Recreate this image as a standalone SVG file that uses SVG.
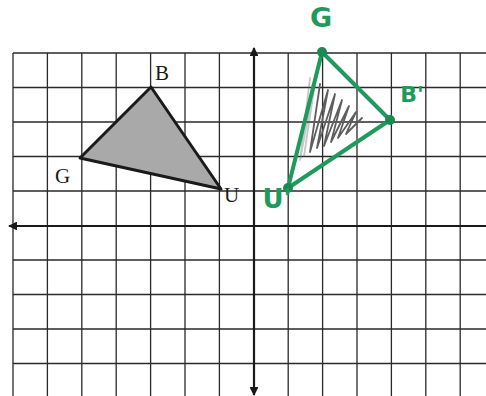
<svg xmlns="http://www.w3.org/2000/svg" width="486" height="396" viewBox="0 0 486 396">
<defs>
<style>
.grid{stroke:#2a2a2a;stroke-width:1.3;fill:none}
.axis{stroke:#1a1a1a;stroke-width:2.2;fill:none}
.lbl{font-family:"Liberation Serif",serif;font-size:21px;fill:#1a1a1a}
.hand{font-family:"DejaVu Sans",sans-serif;font-weight:bold;fill:#1e9a5c}
.grn{stroke:#1e9a5c;stroke-width:4;fill:none;stroke-linejoin:round;stroke-linecap:round}
.dot{fill:#1a8a52}
.hatch{stroke:#5e5e5e;stroke-width:1.8;fill:none;stroke-linejoin:round;stroke-linecap:round}
</style>
<marker id="ah" viewBox="0 0 10 10" refX="9" refY="5" markerWidth="4" markerHeight="4" orient="auto-start-reverse">
<path d="M0,0 L10,5 L0,10 z" fill="#1a1a1a"/>
</marker>
</defs>
<rect width="486" height="396" fill="#ffffff"/>
<g id="grid">
<path class="grid" d="M13,53V396 M47.4,53V396 M81.8,53V396 M116.2,53V396 M150.6,53V396 M185,53V396 M219.4,53V396 M288.2,53V396 M322.6,53V396 M357,53V396 M391.4,53V396 M425.8,53V396 M460.2,53V396"/>
<path class="grid" d="M13,53H486 M13,87.5H486 M13,122H486 M13,156.5H486 M13,191H486 M13,260H486 M13,294.5H486 M13,329H486 M13,363.5H486"/>
</g>
<g id="axes">
<line class="axis" x1="486" y1="226" x2="9" y2="226" marker-end="url(#ah)"/>
<line class="axis" x1="254" y1="220" x2="254" y2="48" marker-end="url(#ah)"/>
<line class="axis" x1="254" y1="220" x2="254" y2="395" marker-end="url(#ah)"/>
</g>
<g id="triangle-BGU">
<polygon points="151,87 80,158 221,189" fill="#a9a9a9" stroke="#1a1a1a" stroke-width="3" stroke-linejoin="round"/>
<text class="lbl" x="155" y="80">B</text>
<text class="lbl" x="55" y="183">G</text>
<text class="lbl" x="224" y="202">U</text>
</g>
<g id="hatching">
<polyline class="hatch" points="310,78 300,160 316,76 304,156" opacity="0.35" stroke-width="3"/>
<polyline class="hatch" points="320,84 310,152 328,90 317,148 335,94 324,146 342,100 331,142 349,106 338,138 356,112 346,134 362,118"/>
</g>
<g id="triangle-image">
<polygon class="grn" points="322,52 390,120 288,188"/>
<circle class="dot" cx="322" cy="52" r="5"/>
<circle class="dot" cx="390" cy="120" r="5"/>
<circle class="dot" cx="288" cy="188" r="5"/>
<text class="hand" x="321" y="27" font-size="27" text-anchor="middle">G</text>
<text class="hand" x="412" y="102" font-size="22" text-anchor="middle">B'</text>
<text class="hand" x="277" y="208" font-size="26" text-anchor="middle">U'</text>
</g>
</svg>
